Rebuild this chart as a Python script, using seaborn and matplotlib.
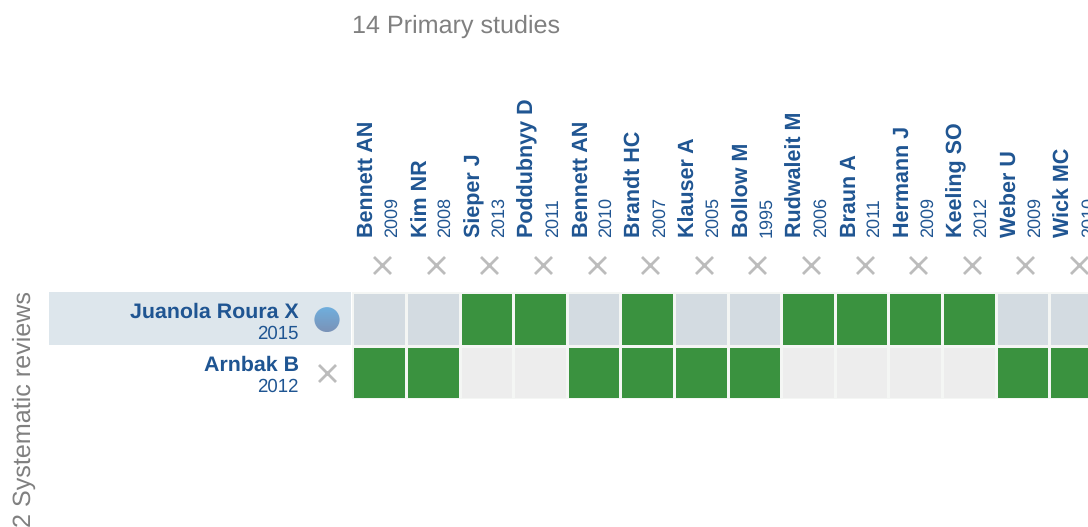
import numpy as np
import seaborn as sns
import matplotlib.pyplot as plt
from matplotlib.colors import ListedColormap
from matplotlib.patches import Circle, Rectangle

# ---------------------------------------------
# Data
# ---------------------------------------------
study_names = ['Bennett AN', 'Kim NR', 'Sieper J', 'Poddubnyy D', 'Bennett AN', 'Brandt HC', 'Klauser A',
               'Bollow M', 'Rudwaleit M', 'Braun A', 'Hermann J', 'Keeling SO', 'Weber U', 'Wick MC']
study_years = ['2009', '2008', '2013', '2011', '2010', '2007', '2005',
               '1995', '2006', '2011', '2009', '2012', '2009', '2010']
review_names = ['Juanola Roura X', 'Arnbak B']
review_years = ['2015', '2012']
juanola_row = [0, 0, 1, 1, 0, 1, 0, 0, 1, 1, 1, 1, 0, 0]
arnbak_row = [1, 1, 0, 0, 1, 1, 1, 1, 0, 0, 0, 0, 1, 1]

BLUE = '#1f5592'
GREY_TEXT = '#808080'
GREY_X = '#bcbcbc'
GREEN = '#3a923f'

sns.set_theme(style='white')
plt.rcParams['font.family'] = ['Liberation Sans', 'DejaVu Sans']
plt.rcParams['text.hinting'] = 'none'

W, H = 1088, 527
fig = plt.figure(figsize=(W / 100, H / 100), dpi=100)

# Axes runs past the right edge of the figure, last column gets cut off like the original
left, top, col_w, row_h = 352.4, 292.5, 53.6, 53.1
ax = fig.add_axes([left / W, 1 - (top + 2 * row_h) / H, 14 * col_w / W, 2 * row_h / H])

# ---------------------------------------------
# Matrix: background cells, then the green cells a bit smaller on top
# ---------------------------------------------
matrix = np.array([juanola_row, arnbak_row])
background = np.array([[0] * matrix.shape[1], [1] * matrix.shape[1]])

sns.heatmap(background, ax=ax, cmap=ListedColormap(['#d3dbe1', '#ededed']), vmin=0, vmax=1,
            cbar=False, linewidths=1.2, linecolor='white', xticklabels=False, yticklabels=False)
sns.heatmap(matrix, ax=ax, mask=matrix == 0, cmap=ListedColormap([GREEN]), vmin=0, vmax=1,
            cbar=False, linewidths=2.0, linecolor='#f4f6f4', xticklabels=False, yticklabels=False)
ax.set_xlim(0, 14)
ax.set_ylim(2, 0)

# Highlight band behind the selected review
ax.add_patch(Rectangle((-(left - 49) / col_w, 0), (left - 49) / col_w - 0.03, 0.99,
                       facecolor='#dde6ec', edgecolor='none', clip_on=False, zorder=0))

# ---------------------------------------------
# Column labels and remove crosses
# ---------------------------------------------
for i, (name, year) in enumerate(zip(study_names, study_years)):
    ax.text(i + 0.28, -1.04, name, rotation=90, ha='center', va='bottom', fontsize=15.5,
            fontweight='bold', color=BLUE, clip_on=False)
    ax.text(i + 0.74, -1.04, year, rotation=90, ha='center', va='bottom', fontsize=13.0,
            color=BLUE, clip_on=False)
ax.scatter(np.arange(14) + 0.555, [-0.51] * 14, marker='x', s=150, linewidths=2.0,
           color=GREY_X, clip_on=False)

# ---------------------------------------------
# Row labels
# ---------------------------------------------
label_x = -(left - 299) / col_w
for r, (name, year) in enumerate(zip(review_names, review_years)):
    ax.text(label_x, r + 0.375, name, ha='right', va='center', fontsize=15.4,
            fontweight='bold', color=BLUE, clip_on=False)
    ax.text(label_x, r + 0.775, year, ha='right', va='center', fontsize=13.4,
            color=BLUE, clip_on=False)

marker_x = -(left - 327) / col_w
ax.scatter([marker_x], [1.51], marker='x', s=150, linewidths=2.0, color=GREY_X, clip_on=False)

# Selected review gets a shaded ball instead of a cross
shade = np.linspace(0, 1, 64).reshape(-1, 1)
ball = ax.imshow(shade, extent=(marker_x - 0.24, marker_x + 0.24, 0.75, 0.27), aspect='auto',
                 cmap=ListedColormap(sns.blend_palette(['#6fb0df', '#7a93b8'], 64)), zorder=3)
ball.set_clip_box(fig.bbox)
ball.set_clip_path(Circle((marker_x, 0.51), 0.235, transform=ax.transData))
ax.set_xlim(0, 14)
ax.set_ylim(2, 0)
ax.set_aspect('auto')

# ---------------------------------------------
# Headings
# ---------------------------------------------
fig.text(352 / W, 1 - 26.5 / H, '14 Primary studies', ha='left', va='center', fontsize=18.1, color=GREY_TEXT)
fig.text(24 / W, 1 - 291 / H, '2 Systematic reviews', rotation=90, ha='center', va='top',
         fontsize=18.1, color=GREY_TEXT)

fig.savefig('out.png', dpi=100)
